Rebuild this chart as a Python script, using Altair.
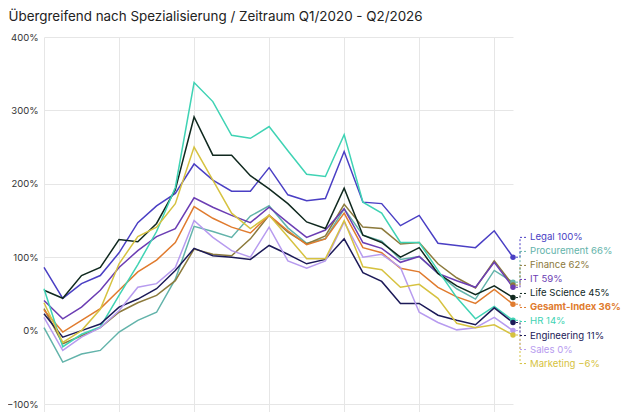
import altair as alt
import pandas as pd

# ---- data ----
quarters = [f"Q{q}/{y}" for y in range(2020, 2027) for q in range(1, 5)][:26]

series = ["Legal", "Procurement", "Finance", "IT", "Life Science",
          "Gesamt-Index", "HR", "Engineering", "Sales", "Marketing"]
colors = ["#4a3fc4", "#62b3aa", "#8c7a3c", "#6b3db3", "#10291f",
          "#e07b2e", "#3fd3b4", "#1c1a58", "#b79bef", "#d6c240"]

legal = [86, 44, 64, 75, 106, 147, 170, 187, 227, 205, 190, 190, 222, 185, 177, 180, 244, 175, 173, 143, 157, 119, 116, 113, 136, 100]
procurement = [4, -43, -32, -27, -2, 14, 25, 70, 142, 135, 127, 156, 170, 140, 119, 125, 166, 130, 122, 97, 101, 78, 57, 43, 82, 66]
finance = [30, -18, -7, 4, 25, 38, 48, 68, 111, 104, 102, 125, 157, 134, 118, 129, 172, 141, 139, 118, 120, 91, 72, 58, 95, 62]
it = [41, 16, 32, 55, 86, 109, 128, 139, 181, 168, 157, 147, 168, 147, 127, 137, 166, 120, 112, 93, 101, 78, 68, 59, 93, 59]
life_science = [55, 44, 75, 86, 124, 121, 146, 192, 291, 239, 239, 211, 193, 173, 148, 139, 194, 130, 120, 100, 113, 78, 61, 49, 61, 45]
gesamt = [28, -2, 14, 30, 55, 80, 96, 120, 169, 153, 141, 133, 157, 136, 117, 125, 160, 113, 106, 85, 80, 59, 46, 37, 56, 36]
hr = [57, -22, -5, 5, 48, 90, 135, 195, 338, 312, 266, 262, 278, 245, 213, 210, 267, 175, 160, 120, 120, 82, 45, 16, 33, 14]
engineering = [23, -9, 0, 9, 32, 43, 57, 82, 112, 102, 100, 97, 116, 104, 91, 97, 125, 79, 67, 37, 37, 21, 14, 8, 31, 11]
sales = [18, -27, -9, 4, 27, 59, 64, 86, 150, 127, 109, 100, 141, 95, 85, 95, 148, 100, 104, 86, 25, 11, 1, 4, 18, 0]
marketing = [38, -16, 0, 29, 91, 128, 141, 173, 250, 205, 160, 139, 157, 128, 98, 98, 150, 87, 83, 59, 63, 44, 10, 4, 8, -6]

values = [legal, procurement, finance, it, life_science, gesamt, hr,
          engineering, sales, marketing]

y_ticks = [-100, 0, 100, 200, 300, 400]
x_grid = [0, 4, 8, 12, 16, 20, 24]

# ---- layout constants (label stacking) ----
LABEL_TOP = 127.0
LABEL_STEP = 19.1
GRID = "#e6e6e6"
FONT = "Inter"

rows = []
for name, vals in zip(series, values):
    for i, v in enumerate(vals):
        rows.append({"s": name, "q": i, "quarter": quarters[i], "v": v})
df = pd.DataFrame(rows)

end_rows = []
for k, (name, vals) in enumerate(zip(series, values)):
    end = vals[-1]
    txt = f"{name} {'−' if end < 0 else ''}{abs(end)}%"
    end_rows.append({"s": name, "q": len(vals) - 1, "v": end,
                     "ly": LABEL_TOP - k * LABEL_STEP, "label": txt,
                     "bold": name == "Gesamt-Index"})
end_df = pd.DataFrame(end_rows)

W, H = 469, 367
color = alt.Color("s:N", scale=alt.Scale(domain=series, range=colors), legend=None)
y_scale = alt.Scale(domain=[-100, 400], nice=False, zero=False)

x_enc = alt.X("q:Q", scale=alt.Scale(domain=[0, 25], nice=False, zero=False),
              axis=alt.Axis(values=x_grid, labels=False, domain=False, ticks=True,
                            tickSize=8, tickColor=GRID, grid=True, gridColor=GRID,
                            title=None))
y_enc = alt.Y("v:Q", scale=y_scale,
              axis=alt.Axis(values=y_ticks, labelExpr="datum.label + '%'",
                            domain=False, ticks=False, grid=True, gridColor=GRID,
                            labelFont=FONT, labelFontSize=9.5, labelColor="#333333",
                            labelPadding=6, title=None))

lines = alt.Chart(df).mark_line(strokeWidth=1.5).encode(
    x=x_enc, y=y_enc, color=color, detail="s:N")

dots = alt.Chart(end_df).mark_circle(size=30, opacity=1).encode(
    x="q:Q", y="v:Q", color=color)

lead_a = alt.Chart(end_df).mark_rule(strokeWidth=1, strokeDash=[2, 2]).encode(
    x=alt.value(472), x2=alt.value(476), y="v:Q", color=color)
lead_b = alt.Chart(end_df).mark_rule(strokeWidth=1, strokeDash=[2, 2]).encode(
    x=alt.value(476), y="v:Q", y2="ly:Q", color=color)
lead_c = alt.Chart(end_df).mark_rule(strokeWidth=1, strokeDash=[2, 2]).encode(
    x=alt.value(476), x2=alt.value(483), y="ly:Q", color=color)

labels = alt.Chart(end_df).transform_filter("!datum.bold").mark_text(
    align="left", baseline="middle", font=FONT, fontSize=9.6).encode(
    x=alt.value(486), y="ly:Q", text="label:N", color=color)
labels_bold = alt.Chart(end_df).transform_filter("datum.bold").mark_text(
    align="left", baseline="middle", font=FONT, fontSize=9.6, fontWeight="bold").encode(
    x=alt.value(486), y="ly:Q", text="label:N", color=color)

chart = alt.layer(lines, lead_a, lead_b, lead_c, dots, labels, labels_bold).properties(
    width=W, height=H,
    title=alt.Title("Übergreifend nach Spezialisierung / Zeitraum Q1/2020 - Q2/2026",
                    anchor="start", font=FONT, fontSize=13.4, fontWeight="normal",
                    color="#222222", dx=2, offset=9),
    autosize=alt.AutoSizeParams(type="none"),
    padding={"left": 36, "top": 29, "right": 109, "bottom": 8},
).configure_view(stroke=None)

chart.save("out.html", embed_options={"renderer": "svg", "actions": False})
